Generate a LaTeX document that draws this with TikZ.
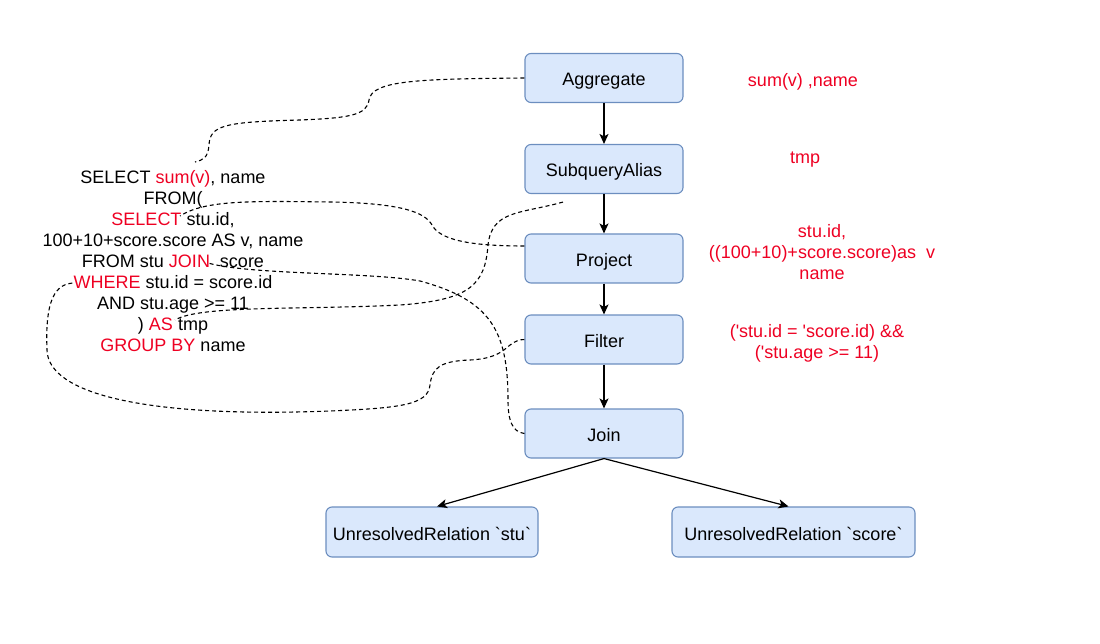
\documentclass[tikz,border=0pt]{standalone}
\usepackage{fontspec}
\setmainfont{Liberation Sans}
\usetikzlibrary{arrows.meta}
\definecolor{rosso}{HTML}{EE0022}
\definecolor{azzurro}{HTML}{DAE8FC}
\definecolor{bordo}{HTML}{6C8EBF}
\begin{document}
\begin{tikzpicture}[x=1pt, y=-1pt,
        piano/.style={draw=bordo, fill=azzurro, line width=1.1pt, rounded corners=6pt,
            minimum height=49pt, text height=17pt, text depth=1pt,
            font=\fontsize{18}{21}\selectfont},
        nota/.style={align=center, text=rosso, font=\fontsize{18}{21}\selectfont},
        freccia/.style={-{Stealth[length=10pt, width=9pt, inset=2.5pt]}, line width=1.2pt},
        curva/.style={dash pattern=on 4pt off 3pt, line width=1.1pt}]
        \useasboundingbox (0,0) rectangle (1100,644);

        % Piano logico (nodi)
        \node[piano, minimum width=158pt] (aggregate) at (604,78) {Aggregate};
        \node[piano, minimum width=158pt] (subquery) at (604,169) {SubqueryAlias};
        \node[piano, minimum width=158pt] (project) at (604,258.5) {Project};
        \node[piano, minimum width=158pt] (filter) at (604,339.5) {Filter};
        \node[piano, minimum width=158pt] (join) at (604,433.5) {Join};
        \node[piano, minimum width=212pt, minimum height=50pt] (stu) at (432,532)
            {UnresolvedRelation \textasciigrave stu\textasciigrave};
        \node[piano, minimum width=243pt, minimum height=50pt] (score) at (793.5,532)
            {UnresolvedRelation \textasciigrave score\textasciigrave};

        % Frecce tra i nodi
        \draw[freccia] (aggregate) -- (subquery);
        \draw[freccia] (subquery) -- (project);
        \draw[freccia] (project) -- (filter);
        \draw[freccia] (filter) -- (join);
        \draw[freccia] (join.south) -- ([xshift=5pt]stu.north);
        \draw[freccia] (join.south) -- ([xshift=-5pt]score.north);

        % Annotazioni (rosso)
        \node[nota] (nAgg) at (803,82) {sum(v) ,name};
        \node[nota] (nSub) at (805,160) {tmp};
        \node[nota] (nPro) at (822,252) {stu.id,\\((100+10)+score.score)as\ \ v\\name};
        \node[nota] (nFil) at (817,343) {(\textquotesingle stu.id = \textquotesingle score.id) \&\&\\(\textquotesingle stu.age >= 11)};

        % Query SQL
        \node[align=center, font=\fontsize{18}{21}\selectfont] (sql) at (173,261) {%
            SELECT \textcolor{rosso}{sum(v)}, name\\
            FROM(\\
            \textcolor{rosso}{SELECT} stu.id,\\
            100+10+score.score AS v, name\\
            FROM stu \textcolor{rosso}{JOIN}\ \ score\\
            \textcolor{rosso}{WHERE} stu.id = score.id\\
            AND stu.age >= 11\\
            ) \textcolor{rosso}{AS} tmp\\
            \textcolor{rosso}{GROUP BY} name};

        % Punti della query raggiunti dalle curve
        \coordinate (qSum) at (195,162);
        \coordinate (qSel) at (180,216);
        \coordinate (qAs) at (175,320);
        \coordinate (qJoin) at (208,263);
        \coordinate (qWhere) at (75,283);

        % Curve tratteggiate
        \draw[curva] (aggregate.west) .. controls (420,79) and (372,80) .. (369,100)
            .. controls (367,115) and (350,118) .. (300,120)
            .. controls (225,122) and (210,125) .. (209,145)
            .. controls (208,158) and (203,160) .. (qSum);
        \draw[curva] ([yshift=12.5pt]project.west) .. controls (470,246) and (440,240) .. (432,225)
            .. controls (425,212) and (400,203) .. (330,202)
            .. controls (250,201) and (205,200) .. (qSel);
        \draw[curva] ([xshift=-41pt,yshift=-8pt]subquery.south) .. controls (520,214) and (492,210) .. (488,245)
            .. controls (485,285) and (470,300) .. (400,305)
            .. controls (300,310) and (200,305) .. (qAs);
        \draw[curva] (join.west) .. controls (512,432) and (508,420) .. (508,400)
            .. controls (508,330) and (490,300) .. (420,281)
            .. controls (370,272) and (250,275) .. (qJoin);
        \draw[curva] (filter.west) .. controls (505,340) and (510,358) .. (470,360)
            .. controls (440,361) and (432,368) .. (430,385)
            .. controls (428,405) and (400,408) .. (330,411)
            .. controls (150,418) and (48,395) .. (47,350)
            .. controls (45,300) and (55,283) .. (qWhere);

    \end{tikzpicture}
\end{document}
